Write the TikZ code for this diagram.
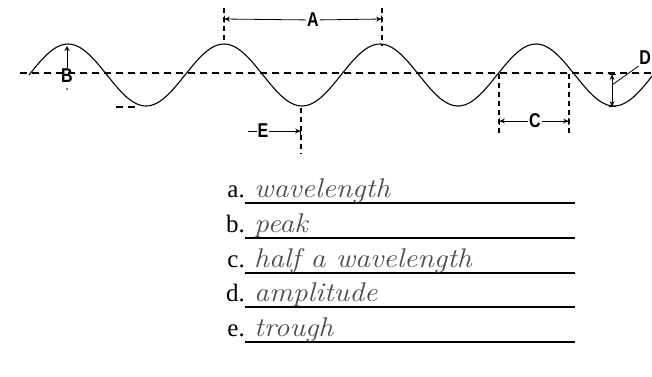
\documentclass[tikz,border=0pt]{standalone}
\usepackage{fontspec}
\newfontfamily\serf{Liberation Serif}
\newfontfamily\labf{Liberation Sans}
\usetikzlibrary{arrows.meta}
\begin{document}
\begin{tikzpicture}[x=1pt,y=-1pt,
  wave/.style={line width=1.1pt},
  hdash/.style={line width=1.2pt, dash pattern=on 7pt off 5pt},
  vdash/.style={line width=1.2pt, dash pattern=on 5pt off 4pt},
  lbl/.style={font=\labf\bfseries\fontsize{20}{20}\selectfont, inner sep=1pt, xscale=0.8},
  dimarrow/.style={line width=0.8pt, -{Stealth[length=5pt,width=5pt] Bar[width=7pt]}},
  qlabel/.style={font=\serf\fontsize{25}{25}\selectfont, anchor=base east, inner sep=0pt},
  answer/.style={font=\itshape\fontsize{27}{27}\selectfont, text=black!70, anchor=base west, inner sep=0pt, xscale=1.1},
  rule/.style={line width=1.3pt}
]
\useasboundingbox (0,0) rectangle (652,376);

% baseline (dashed)
\coordinate (h0) at (20,73);
\coordinate (h1) at (652,73);
\draw[hdash] (h0) -- (h1);

% wave
\draw[wave] plot[domain=29:652, samples=240, smooth] (\x, {75 - 31*sin((\x-29)*2.307692)});

% trough marker
\coordinate (t0) at (116,107);
\coordinate (t1) at (140,107);
\draw[hdash] (t0) -- (t1);

% A
\coordinate (a1t) at (224,8);  \coordinate (a1b) at (224,44);
\coordinate (a2t) at (382,8);  \coordinate (a2b) at (382,46);
\draw[vdash] (a1t) -- (a1b);
\draw[vdash] (a2t) -- (a2b);
\coordinate (a1) at (224,19); \coordinate (a2) at (382,19);
\node[lbl] (A) at (313,20) {A};
\draw[dimarrow] (A) -- (a1);
\draw[dimarrow] (A) -- (a2);

% B
\node[lbl] (B) at (67,76) {B};
\coordinate (bt) at (67,46);
\draw[line width=0.8pt, -{Stealth[length=5pt,width=5pt]}] (B) -- (bt);
\fill (67,89) circle (0.8);

% C
\coordinate (c1t) at (499,74); \coordinate (c1b) at (499,134);
\coordinate (c2t) at (569,74); \coordinate (c2b) at (569,134);
\draw[vdash] (c1t) -- (c1b);
\draw[vdash] (c2t) -- (c2b);
\coordinate (c1) at (499,121); \coordinate (c2) at (569,121);
\node[lbl] (C) at (535,121) {C};
\draw[dimarrow] (C) -- (c1);
\draw[dimarrow] (C) -- (c2);

% D
\coordinate (d1) at (612,74); \coordinate (d2) at (612,107);
\coordinate (dm) at (612,85);
\draw[line width=0.8pt, {Bar[width=7pt] Stealth[length=5pt,width=5pt]}-{Stealth[length=5pt,width=5pt] Bar[width=7pt]}] (d1) -- (d2);
\node[lbl, anchor=east] (D) at (652,58) {D};
\draw[line width=0.8pt] (dm) -- (D.south west);

% E
\coordinate (e1t) at (301,108); \coordinate (e1b) at (301,154);
\draw[vdash] (e1t) -- (e1b);
\node[lbl] (E) at (263,131) {E};
\coordinate (e0) at (248,131);
\coordinate (e1) at (301,131);
\draw[line width=0.8pt] (e0) -- (E.west);
\draw[dimarrow] (E) -- (e1);

% answer lines
\foreach \n/\yy/\l/\ans in {a/203/a./wavelength, b/238/b./peak, c/273/c./half a wavelength, d/307/d./amplitude, e/342/e./trough}{
  \coordinate (r\n0) at (245,\yy);
  \coordinate (r\n1) at (575,\yy);
  \draw[rule] (r\n0) -- (r\n1);
  \node[qlabel] (q\n) at (245,\yy-6) {\l};
  \node[answer] (ans\n) at (254,\yy-6) {\ans};
}
\end{tikzpicture}
\end{document}
